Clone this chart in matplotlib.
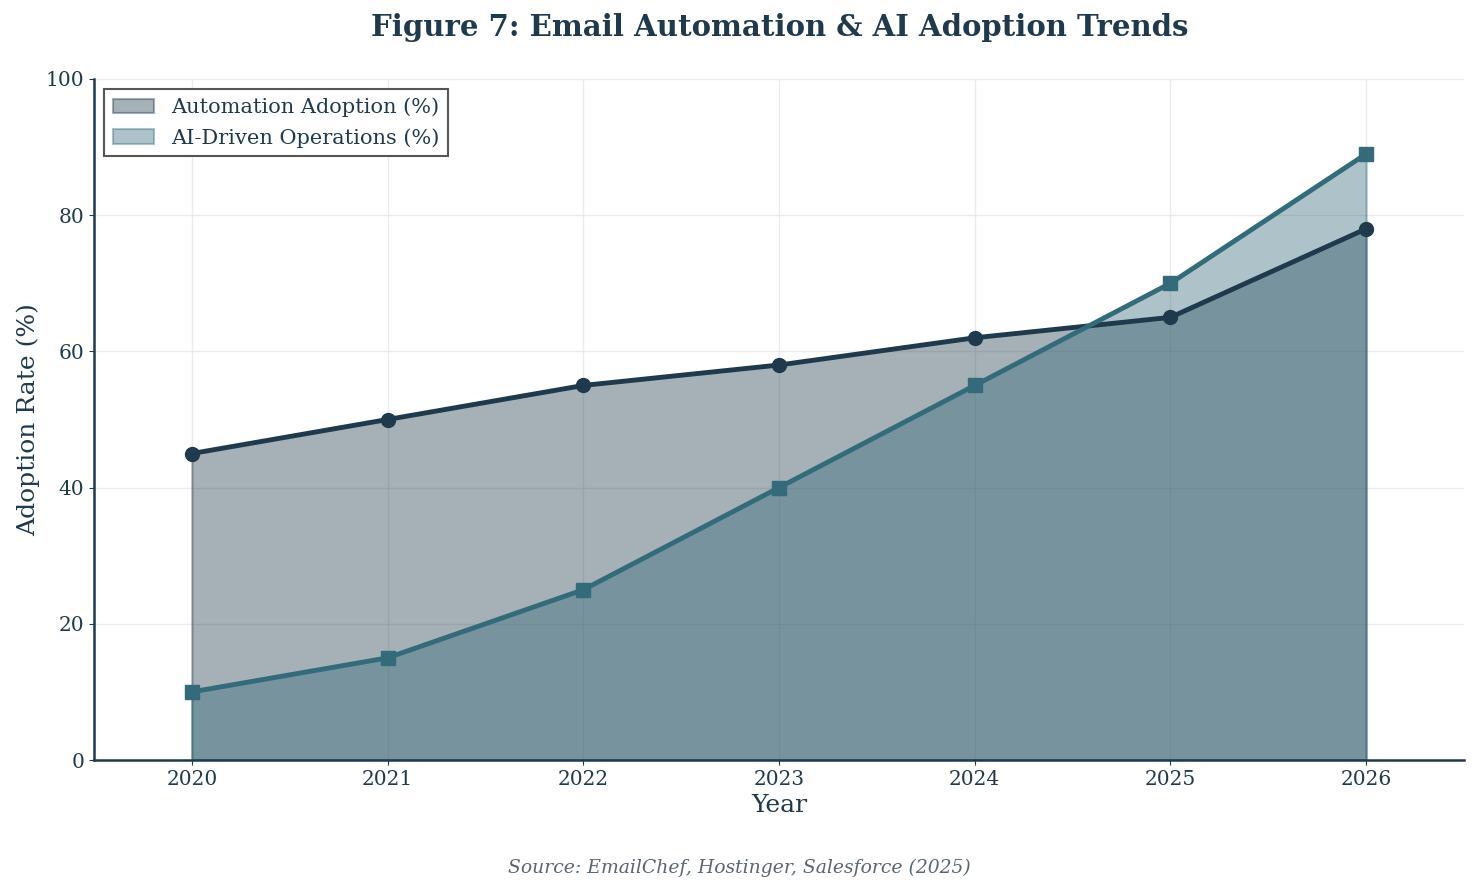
import numpy as np
import matplotlib.pyplot as plt

plt.rcParams['font.family'] = 'DejaVu Serif'

years = [2020, 2021, 2022, 2023, 2024, 2025, 2026]
automation = [45, 50, 55, 58, 62, 65, 78]
ai_ops = [10, 15, 25, 40, 55, 70, 89]

navy = '#1f3a4d'
teal = '#336b7a'
text_col = '#1f3a4d'

fig = plt.figure(figsize=(14.79, 8.93), dpi=100)
ax = fig.add_axes([94/1479, 1 - 760/893, (1464-94)/1479, (760-79)/893])

ax.fill_between(years, automation, color=navy, alpha=0.4, edgecolor=navy, linewidth=1.5,
                label='Automation Adoption (%)')
ax.fill_between(years, ai_ops, color=teal, alpha=0.4, edgecolor=teal, linewidth=1.5,
                label='AI-Driven Operations (%)')
ax.plot(years, automation, color=navy, linewidth=3.5, marker='o', markersize=10)
ax.plot(years, ai_ops, color=teal, linewidth=3.5, marker='s', markersize=10)

ax.set_xlim(2019.5, 2026.5)
ax.set_ylim(0, 100)
ax.set_xticks(years)
ax.set_yticks([0, 20, 40, 60, 80, 100])
ax.grid(True, color='#e6e6e6', linewidth=1, alpha=0.8)
ax.set_axisbelow(True)

for s in ['top', 'right']:
    ax.spines[s].set_visible(False)
for s in ['left', 'bottom']:
    ax.spines[s].set_color(navy)
    ax.spines[s].set_linewidth(1.8)
ax.tick_params(colors=text_col, labelsize=14.5)

ax.set_xlabel('Year', fontsize=18, color=text_col)
ax.set_ylabel('Adoption Rate (%)', fontsize=18, color=text_col)
fig.text(0.527, 1 - 28/893, 'Figure 7: Email Automation & AI Adoption Trends', fontsize=21,
         fontweight='bold', color=text_col, ha='center', va='center')

leg = ax.legend(loc='upper left', fontsize=15, fancybox=False, framealpha=1,
                edgecolor='#555555')
leg.get_frame().set_linewidth(1.5)
for t in leg.get_texts():
    t.set_color(text_col)

fig.text(0.5, 1 - 868/893, 'Source: EmailChef, Hostinger, Salesforce (2025)', ha='center',
         va='center', fontsize=13.5, style='italic', color='#5a6670')

plt.savefig('out.png', dpi=100)
